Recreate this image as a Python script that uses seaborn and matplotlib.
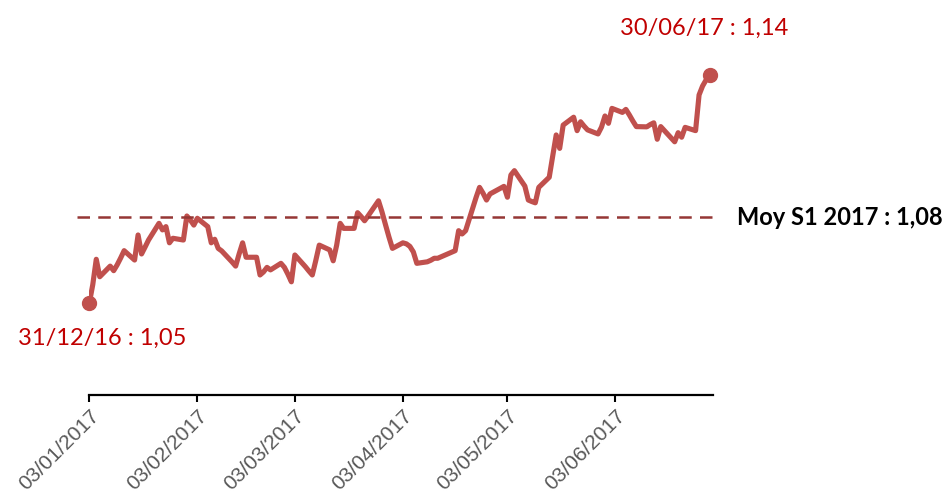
import pandas as pd
import matplotlib.pyplot as plt
import matplotlib.dates as mdates
import seaborn as sns

# --- Données : EUR/USD, cours quotidiens S1 2017 ---
janvier = [1.0500, 1.0574, 1.0674, 1.0605,
           1.0647, 1.0629, 1.0652, 1.0679, 1.0708,
           1.0671, 1.0770, 1.0695, 1.0722, 1.0750,
           1.0816, 1.0790, 1.0803, 1.0739, 1.0757,
           1.0750, 1.0845]
fevrier = [1.0829, 1.0809, 1.0836,
           1.0803, 1.0739, 1.0753, 1.0717, 1.0707,
           1.0663, 1.0647, 1.0695, 1.0739, 1.0682,
           1.0682, 1.0612, 1.0624, 1.0642, 1.0632,
           1.0658, 1.0642]
mars = [1.0615, 1.0585, 1.0691,
        1.0645, 1.0628, 1.0612, 1.0669, 1.0730,
        1.0711, 1.0668, 1.0730, 1.0816, 1.0796,
        1.0796, 1.0858, 1.0843, 1.0826, 1.0845,
        1.0905, 1.0861, 1.0811, 1.0762, 1.0717]
avril = [1.0739, 1.0735, 1.0725, 1.0703, 1.0658,
         1.0664, 1.0670, 1.0678, 1.0678,
         1.0708, 1.0787, 1.0774, 1.0787,
         1.0918, 1.0958, 1.0935, 1.0908, 1.0932]
mai = [1.0962, 1.0919, 1.1007, 1.1024,
       1.0963, 1.0908, 1.0902, 1.0897, 1.0958,
       1.0998, 1.1082, 1.1165, 1.1112, 1.1204,
       1.1235, 1.1182, 1.1217, 1.1200, 1.1185,
       1.1169, 1.1196, 1.1240]
juin = [1.1211, 1.1270,
        1.1254, 1.1266, 1.1244, 1.1220, 1.1198,
        1.1197, 1.1206, 1.1213, 1.1148, 1.1198,
        1.1153, 1.1138, 1.1174, 1.1156, 1.1195,
        1.1182, 1.1323, 1.1358, 1.1382, 1.1402]

jours_feries = ["2017-04-14", "2017-04-17", "2017-05-01"]
moyenne_s1 = 1.084
ticks = ["2017-01-03", "2017-02-03", "2017-03-03",
         "2017-04-03", "2017-05-03", "2017-06-03"]

label_debut = "31/12/16 : 1,05"
label_fin = "30/06/17 : 1,14"
label_moy = "Moy S1 2017 : 1,08"

dates = pd.bdate_range("2017-01-03", "2017-06-30")
dates = dates[~dates.isin(pd.to_datetime(jours_feries))]
valeurs = janvier + fevrier + mars + avril + mai + juin
df = pd.DataFrame({"date": dates, "cours": valeurs})

# --- Graphique ---
sns.set_style("white")
plt.rcParams["font.family"] = ["Liberation Sans", "DejaVu Sans"]

fig = plt.figure(figsize=(9.49, 4.95), dpi=100)
ax = fig.add_axes([89 / 949, 100 / 495, 624 / 949, 355 / 495])

rouge = "#C0504D"
sns.lineplot(data=df, x="date", y="cours", color=rouge, linewidth=3.7, ax=ax)
ax.plot(df["date"].iloc[[0, -1]], df["cours"].iloc[[0, -1]], "o",
        color=rouge, markersize=10, clip_on=False)

ax.axhline(moyenne_s1, xmin=-0.02, xmax=1.008, color="#953735",
           linestyle=(0, (5, 3.3)), linewidth=1.8, clip_on=False)

ax.set_xlim(pd.Timestamp("2017-01-02 22:00"), pd.Timestamp("2017-07-01 00:00"))
ax.set_ylim(1.0138, 1.154)

ax.set_xticks(pd.to_datetime(ticks))
ax.xaxis.set_major_formatter(mdates.DateFormatter("%d/%m/%Y"))
ax.tick_params(axis="x", bottom=True, length=5, width=1.5, color="black",
               direction="out", labelsize=15, labelcolor="#595959", pad=3)
for lab in ax.get_xticklabels():
    lab.set_rotation(45)
    lab.set_ha("right")
    lab.set_va("top")
    lab.set_rotation_mode("anchor")

ax.set_yticks([])
ax.set_xlabel("")
ax.set_ylabel("")
for cote in ["left", "top", "right"]:
    ax.spines[cote].set_visible(False)
ax.spines["bottom"].set_linewidth(1.6)
ax.spines["bottom"].set_color("black")

ax.annotate(label_debut, xy=(df["date"].iloc[0], df["cours"].iloc[0]),
            xytext=(13, -35), textcoords="offset pixels",
            ha="center", va="center", fontsize=17, color="#C00000",
            family=["Lato", "DejaVu Sans"])
ax.annotate(label_fin, xy=(df["date"].iloc[-1], df["cours"].iloc[-1]),
            xytext=(-5, 47), textcoords="offset pixels",
            ha="center", va="center", fontsize=17, color="#C00000",
            family=["Lato", "DejaVu Sans"])
ax.annotate(label_moy, xy=(1.0, moyenne_s1),
            xycoords=("axes fraction", "data"),
            xytext=(24, 0), textcoords="offset pixels",
            ha="left", va="center", fontsize=17, fontweight="bold",
            color="black", family=["Lato", "DejaVu Sans"])

fig.savefig("out.png", dpi=100)
